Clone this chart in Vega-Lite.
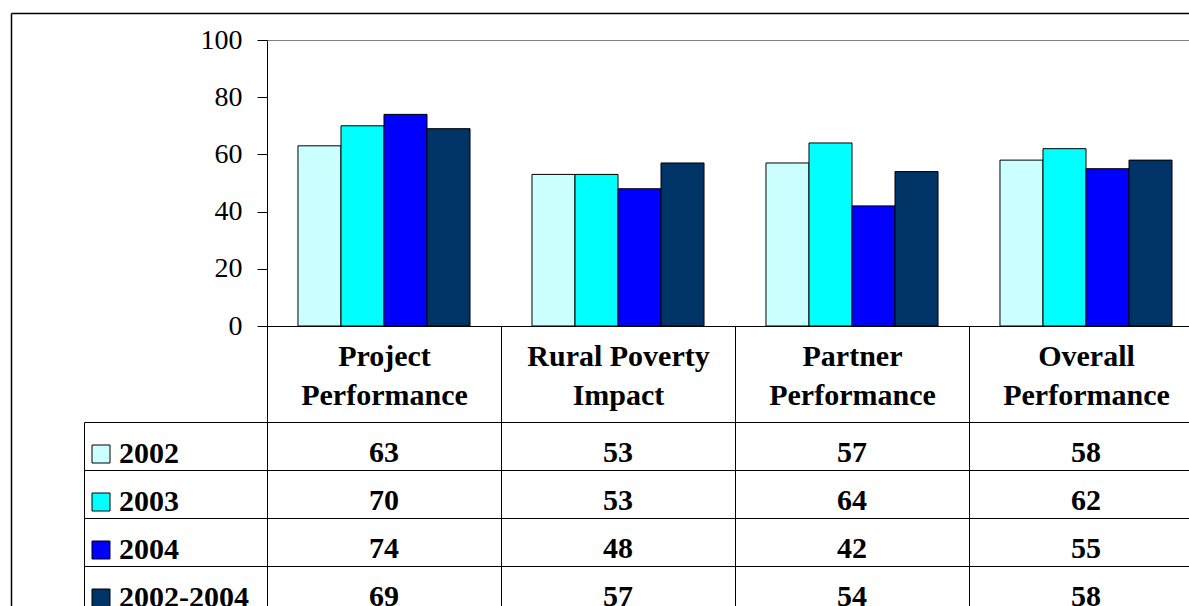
{
  "$schema": "https://vega.github.io/schema/vega-lite/v6.json",
  "autosize": {"type": "none"},
  "padding": {"left": 267, "top": 40, "right": 922, "bottom": 566},
  "background": "white",
  "config": {
    "view": {"stroke": null},
    "font": "Liberation Serif, Times New Roman, Times, serif",
    "axis": {"labelColor": "black", "domainColor": "black", "tickColor": "black"}
  },
  "data": {
    "values": [
      {"category": "Project Performance", "series": "2002", "value": 63},
      {"category": "Project Performance", "series": "2003", "value": 70},
      {"category": "Project Performance", "series": "2004", "value": 74},
      {"category": "Project Performance", "series": "2002-2004", "value": 69},
      {"category": "Rural Poverty Impact", "series": "2002", "value": 53},
      {"category": "Rural Poverty Impact", "series": "2003", "value": 53},
      {"category": "Rural Poverty Impact", "series": "2004", "value": 48},
      {"category": "Rural Poverty Impact", "series": "2002-2004", "value": 57},
      {"category": "Partner Performance", "series": "2002", "value": 57},
      {"category": "Partner Performance", "series": "2003", "value": 64},
      {"category": "Partner Performance", "series": "2004", "value": 42},
      {"category": "Partner Performance", "series": "2002-2004", "value": 54},
      {"category": "Overall Performance", "series": "2002", "value": 58},
      {"category": "Overall Performance", "series": "2003", "value": 62},
      {"category": "Overall Performance", "series": "2004", "value": 55},
      {"category": "Overall Performance", "series": "2002-2004", "value": 58}
    ]
  },
  "vconcat": [
    {
      "width": 922,
      "height": 286,
      "layer": [
        {
          "mark": {"type": "bar", "stroke": "black", "strokeWidth": 1},
          "encoding": {
            "x": {
              "field": "category", "type": "nominal",
              "sort": ["Project Performance", "Rural Poverty Impact", "Partner Performance", "Overall Performance"],
              "scale": {"range": [0, 936], "paddingInner": 0, "paddingOuter": 0},
              "axis": {
                "title": null, "orient": "bottom", "domain": true, "ticks": true, "tickBand": "extent",
                "tickSize": 96, "labelPadding": -81, "labelBaseline": "top", "labelAngle": 0,
                "labelFont": "Liberation Serif, Times New Roman, Times, serif", "labelFontWeight": "bold", "labelFontSize": 30,
                "labelLineHeight": 39, "labelLimit": 0, "labelOverlap": false, "labelFlush": false,
                "labelExpr": "datum.label == 'Rural Poverty Impact' ? ['Rural Poverty', 'Impact'] : split(datum.label, ' ')"
              }
            },
            "xOffset": {
              "field": "series", "type": "nominal",
              "sort": ["2002", "2003", "2004", "2002-2004"],
              "scale": {"paddingInner": 0, "paddingOuter": 0.72}
            },
            "y": {
              "field": "value", "type": "quantitative",
              "scale": {"domain": [0, 100], "nice": false},
              "axis": {
                "title": null, "orient": "left", "values": [0, 20, 40, 60, 80, 100], "tickSize": 10, "labelPadding": 15,
                "labelFont": "Liberation Serif, Times New Roman, Times, serif", "labelFontSize": 28, "labelFontWeight": "normal",
                "grid": true, "gridColor": "#808080",
                "gridOpacity": {"condition": {"test": "datum.value === 100", "value": 1}, "value": 0}
              }
            },
            "color": {
              "field": "series", "type": "nominal",
              "scale": {"domain": ["2002", "2003", "2004", "2002-2004"], "range": ["#CCFFFF", "#00FFFF", "#0000FF", "#003366"]},
              "legend": {
                "title": null, "orient": "none", "legendX": -181, "legendY": 399, "direction": "vertical",
                "symbolType": "square", "symbolSize": 324, "symbolStrokeColor": "black", "symbolStrokeWidth": 1,
                "symbolOpacity": 1, "labelFont": "Liberation Serif, Times New Roman, Times, serif", "labelFontWeight": "bold", "labelFontSize": 30,
                "labelColor": "black", "labelOffset": 3, "rowPadding": 18, "padding": 0
              }
            }
          }
        },
        {
          "mark": {"type": "text"},
          "encoding": {
            "x": {
              "field": "value", "type": "quantitative",
              "scale": {"domain": [0, 100], "range": [-256, 1000]},
              "axis": {"title": null, "orient": "top", "offset": 27, "domain": true, "domainWidth": 1.5, "labels": false, "ticks": false, "grid": false}
            },
            "y": {
              "field": "value", "type": "quantitative",
              "scale": {"domain": [0, 100], "range": [640, -27]},
              "axis": {"title": null, "orient": "left", "offset": 256, "domain": true, "domainWidth": 1.5, "labels": false, "ticks": false, "grid": false}
            }
          }
        }
      ],
      "resolve": {"scale": {"x": "independent", "y": "independent"}, "axis": {"x": "independent", "y": "independent"}}
    },
    {
      "width": 922,
      "height": 192,
      "layer": [
        {
          "mark": {"type": "text", "font": "Liberation Serif, Times New Roman, Times, serif", "fontWeight": "bold", "fontSize": 30, "baseline": "middle", "dy": 7, "color": "black"},
          "encoding": {
            "x": {
              "field": "category", "type": "nominal",
              "sort": ["Project Performance", "Rural Poverty Impact", "Partner Performance", "Overall Performance"],
              "scale": {"range": [0, 936], "paddingInner": 0, "paddingOuter": 0},
              "axis": {"title": null, "labels": false, "ticks": false, "domain": false, "grid": true, "tickBand": "extent", "gridColor": "black", "gridOpacity": 1}
            },
            "y": {
              "field": "series", "type": "nominal",
              "sort": ["2002", "2003", "2004", "2002-2004"],
              "scale": {"paddingInner": 0, "paddingOuter": 0},
              "axis": {"title": null, "orient": "left", "labels": false, "ticks": true, "tickBand": "extent", "tickSize": 183, "domain": true, "grid": true, "gridColor": "black", "gridOpacity": 1}
            },
            "text": {"field": "value", "type": "quantitative"}
          }
        },
        {
          "mark": {"type": "text"},
          "encoding": {
            "y": {
              "field": "series", "type": "nominal",
              "sort": ["2002", "2003", "2004", "2002-2004"],
              "axis": {"title": null, "orient": "left", "offset": 183, "labels": false, "ticks": false, "domain": true, "grid": false}
            }
          }
        }
      ],
      "resolve": {"axis": {"y": "independent"}}
    }
  ],
  "spacing": 96,
  "bounds": "flush"
}
